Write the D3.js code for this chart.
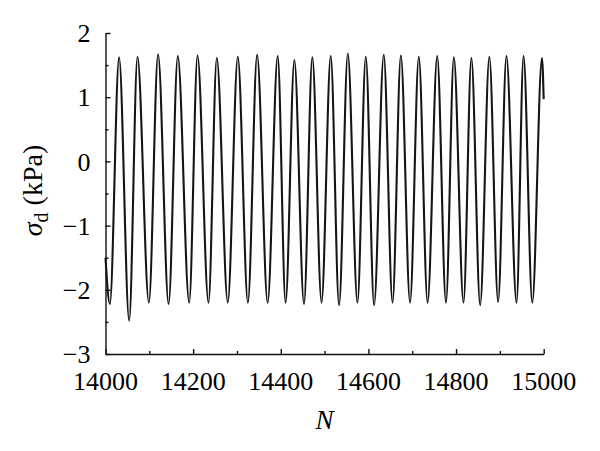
<!DOCTYPE html>
<html>
<head>
<meta charset="utf-8">
<script src="https://cdn.jsdelivr.net/npm/d3@7"></script>
<style>
  body { margin: 0; background: #fff; }
</style>
</head>
<body>
<div class="canva"></div>
<script>
//data: extrema of the cyclic load (N, kPa)
const startN = 14000, startSigma = -1.5;
const endN = 15000, endSigma = 0.97;
const peakN = [14031, 14073, 14120, 14165, 14210, 14254, 14302, 14346, 14393, 14431, 14472, 14514,
               14553, 14594, 14635, 14674, 14715, 14757, 14795, 14835, 14876, 14915, 14954, 14996];
const peakSigma = [1.62, 1.63, 1.67, 1.64, 1.65, 1.61, 1.63, 1.66, 1.64, 1.58, 1.62, 1.64,
                   1.68, 1.63, 1.66, 1.65, 1.63, 1.64, 1.62, 1.61, 1.63, 1.64, 1.64, 1.61];
const troughN = [14010, 14054, 14099, 14144, 14191, 14235, 14279, 14325, 14370, 14411, 14453, 14493,
                 14533, 14575, 14613, 14655, 14695, 14735, 14777, 14817, 14855, 14896, 14938, 14974];
const troughSigma = [-2.22, -2.48, -2.2, -2.22, -2.2, -2.2, -2.2, -2.2, -2.2, -2.2, -2.22, -2.2,
                     -2.24, -2.2, -2.24, -2.2, -2.2, -2.2, -2.2, -2.2, -2.24, -2.19, -2.2, -2.2];

//axis ticks
const xTicks = [14000, 14200, 14400, 14600, 14800, 15000];
const xMinor = [14100, 14300, 14500, 14700, 14900];
const yTicks = [-3, -2, -1, 0, 1, 2];
const yMinor = [-2.5, -1.5, -0.5, 0.5, 1.5];

//build the point list: start, trough, peak, trough, ... , end
const points = [[startN, startSigma]];
troughN.forEach((n, i) => {
  points.push([n, troughSigma[i]]);
  points.push([peakN[i], peakSigma[i]]);
});
points.push([endN, endSigma]);

const width = 600, height = 451;
const mLeft = 105.5, mRight = 543.7, mTop = 33, mBottom = 354;
const serif = "'Liberation Serif', 'Times New Roman', serif";

const svg = d3.select(".canva").append("svg")
              .attr("width", width)
              .attr("height", height);

const x = d3.scaleLinear().domain([14000, 15000]).range([mLeft, mRight]);
const y = d3.scaleLinear().domain([-3, 2]).range([mBottom, mTop]);

//x axis, ticks pointing inward
const xAxis = svg.append("g").attr("transform", `translate(0,${mBottom})`);
xAxis.call(d3.axisTop(x).tickValues(xTicks).tickSize(5).tickSizeOuter(0).tickFormat(""));
xAxis.append("g").call(d3.axisTop(x).tickValues(xMinor).tickSize(3).tickSizeOuter(0).tickFormat(""));

xAxis.selectAll(".xlab")
     .data(xTicks)
     .enter().append("text")
     .attr("x", d => x(d))
     .attr("y", 36)
     .attr("text-anchor", "middle")
     .attr("font-family", serif)
     .attr("font-size", 26)
     .attr("fill", "#000")
     .text(d => d);

//y axis
const yAxis = svg.append("g").attr("transform", `translate(${mLeft},0)`);
yAxis.call(d3.axisRight(y).tickValues(yTicks).tickSize(5).tickSizeOuter(0).tickFormat(""));
yAxis.append("g").call(d3.axisRight(y).tickValues(yMinor).tickSize(3).tickSizeOuter(0).tickFormat(""));

yAxis.selectAll(".ylab")
     .data(yTicks)
     .enter().append("text")
     .attr("x", -15)
     .attr("y", d => y(d))
     .attr("dy", "0.35em")
     .attr("text-anchor", "end")
     .attr("font-family", serif)
     .attr("font-size", 26)
     .attr("fill", "#000")
     .text(d => d < 0 ? "\u2212" + Math.abs(d) : d);

svg.selectAll(".domain, .tick line")
   .attr("stroke", "#111")
   .attr("stroke-width", 1.4);
svg.selectAll("g g .domain").remove();

//the signal
const line = d3.line()
               .x(d => x(d[0]))
               .y(d => y(d[1]))
               .curve(d3.curveMonotoneX);

svg.append("path")
   .datum(points)
   .attr("d", line)
   .attr("fill", "none")
   .attr("stroke", "#151515")
   .attr("stroke-width", 2.1)
   .attr("stroke-linejoin", "round");

//axis titles
svg.append("text")
   .attr("x", (mLeft + mRight) / 2)
   .attr("y", 429)
   .attr("text-anchor", "middle")
   .attr("font-family", serif)
   .attr("font-size", 27)
   .attr("font-style", "italic")
   .attr("fill", "#000")
   .text("N");

const ylab = svg.append("text")
   .attr("transform", `translate(42,${(mTop + mBottom) / 2 - 3}) rotate(-90)`)
   .attr("text-anchor", "middle")
   .attr("font-family", serif)
   .attr("font-size", 28)
   .attr("fill", "#000");
ylab.append("tspan").attr("font-style", "italic").text("\u03c3");
ylab.append("tspan").attr("font-size", 20).attr("dy", 6).text("d");
ylab.append("tspan").attr("dy", -6).text(" (kPa)");
</script>
</body>
</html>
